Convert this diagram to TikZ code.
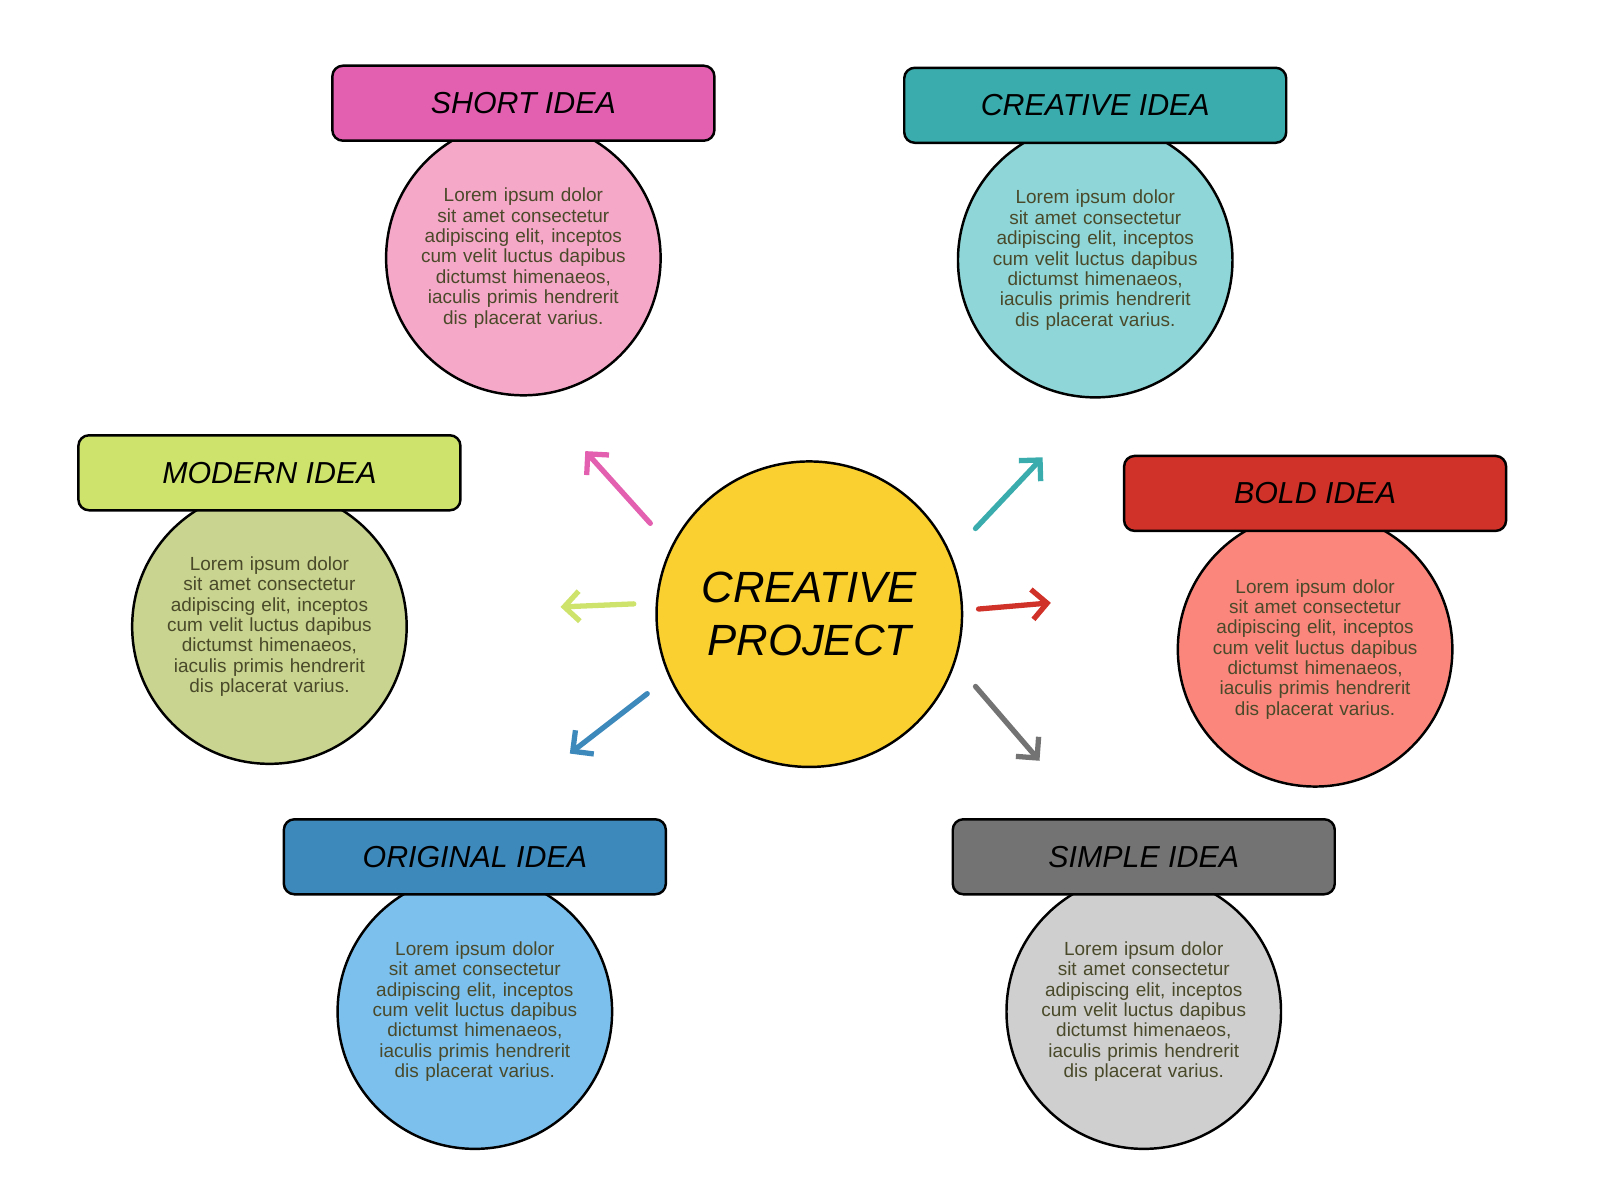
\documentclass[tikz,border=0pt]{standalone}
\usepackage{fontspec}
\setmainfont{Liberation Sans}
\usetikzlibrary{arrows.meta}
\definecolor{txt}{HTML}{4A4A2A}
\definecolor{shortH}{HTML}{E35FB0}\definecolor{shortC}{HTML}{F6A8C8}
\definecolor{creativeH}{HTML}{3AACAD}\definecolor{creativeC}{HTML}{8ED6D7}
\definecolor{modernH}{HTML}{CDE36B}\definecolor{modernC}{HTML}{C8D48F}
\definecolor{boldH}{HTML}{D03128}\definecolor{boldC}{HTML}{FB877C}
\definecolor{originalH}{HTML}{3E89BC}\definecolor{originalC}{HTML}{7CC0EE}
\definecolor{simpleH}{HTML}{737373}\definecolor{simpleC}{HTML}{CFCFCF}
\definecolor{centerC}{HTML}{F9D030}
\tikzstyle{idea} = [circle, draw, line width=1.4pt, minimum size=5.49cm, text width=4.1cm, align=center, font=\fontsize{10.8}{11.6}\selectfont, text=txt]
\tikzstyle{head} = [rectangle, draw, line width=1.4pt, rounded corners=6pt, minimum width=7.64cm, minimum height=1.5cm, font=\LARGE\itshape]
\tikzstyle{arrow} = [-{Straight Barb[length=3mm,width=6mm]}, line width=3pt, line cap=round]
\newcommand{\lorem}{Lorem ipsum dolor sit amet consectetur adipiscing elit, inceptos cum velit luctus dapibus dictumst himenaeos, iaculis primis hendrerit dis placerat varius.}

\begin{document}
\begin{tikzpicture}[x=0.020645cm, y=-0.020645cm]
    \useasboundingbox (0,0) rectangle (1550,1162.5);

        % circles
        \node (short) [idea, fill=shortC] at (507,250) {\lorem};
        \node (creative) [idea, fill=creativeC] at (1061,252) {\lorem};
        \node (modern) [idea, fill=modernC] at (261,607) {\lorem};
        \node (bold) [idea, fill=boldC] at (1274,629) {\lorem};
        \node (original) [idea, fill=originalC] at (460,980) {\lorem};
        \node (simple) [idea, fill=simpleC] at (1108,980) {\lorem};
        \node (center) [circle, draw, line width=1.4pt, minimum size=6.11cm, fill=centerC, font=\Huge\itshape, align=center] at (784,595) {CREATIVE\\PROJECT};

        % headers
        \node (short_h) [head, fill=shortH] at (507,100) {SHORT IDEA};
        \node (creative_h) [head, fill=creativeH] at (1061,102) {CREATIVE IDEA};
        \node (modern_h) [head, fill=modernH] at (261,458) {MODERN IDEA};
        \node (bold_h) [head, fill=boldH] at (1274,478) {BOLD IDEA};
        \node (original_h) [head, fill=originalH] at (460,830) {ORIGINAL IDEA};
        \node (simple_h) [head, fill=simpleH] at (1108,830) {SIMPLE IDEA};

        % arrows
        \coordinate (a1) at (630,507); \coordinate (b1) at (567,437);
        \coordinate (a2) at (945,512); \coordinate (b2) at (1010,443);
        \coordinate (a3) at (614,585); \coordinate (b3) at (543,588);
        \coordinate (a4) at (948,590); \coordinate (b4) at (1018,584);
        \coordinate (a5) at (627,672); \coordinate (b5) at (552,730);
        \coordinate (a6) at (945,665); \coordinate (b6) at (1007,737);
        \draw [arrow, shortH] (a1) -- (b1);
        \draw [arrow, creativeH] (a2) -- (b2);
        \draw [arrow, modernH] (a3) -- (b3);
        \draw [arrow, boldH] (a4) -- (b4);
        \draw [arrow, originalH] (a5) -- (b5);
        \draw [arrow, simpleH] (a6) -- (b6);

\end{tikzpicture}
\end{document}
